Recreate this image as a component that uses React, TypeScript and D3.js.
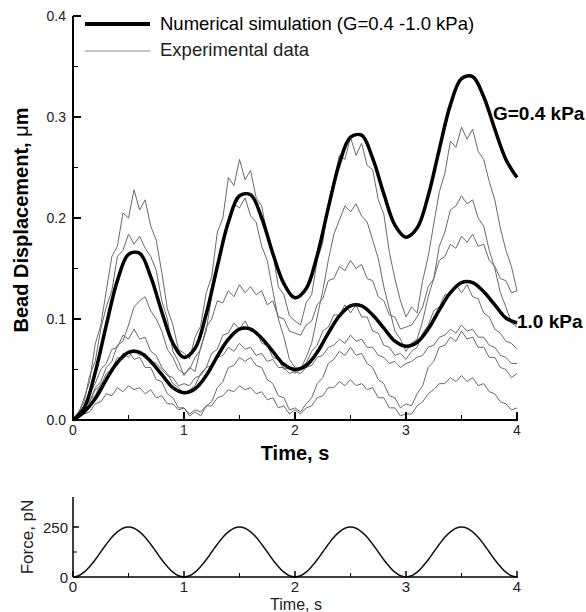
import React from 'react';
import * as d3 from 'd3';

const W = 586;
const H = 612;
const FONT = '"Liberation Sans", Arial, sans-serif';

// numerical simulation, sampled every 0.1 s
const simTime = d3.range(41).map(i => i / 10);
const simSoft = [0.000, 0.012, 0.047, 0.094, 0.138, 0.164, 0.165, 0.142, 0.107, 0.076,
  0.062, 0.071, 0.105, 0.152, 0.196, 0.222, 0.223, 0.200, 0.165, 0.135,
  0.121, 0.130, 0.163, 0.210, 0.254, 0.280, 0.282, 0.259, 0.224, 0.193,
  0.181, 0.190, 0.222, 0.268, 0.312, 0.338, 0.340, 0.320, 0.288, 0.258, 0.240];
const simStiff = [0.000, 0.008, 0.021, 0.040, 0.057, 0.067, 0.067, 0.058, 0.045, 0.032,
  0.027, 0.031, 0.044, 0.063, 0.080, 0.090, 0.090, 0.081, 0.068, 0.055,
  0.050, 0.054, 0.067, 0.086, 0.103, 0.113, 0.113, 0.104, 0.091, 0.078,
  0.073, 0.077, 0.090, 0.109, 0.126, 0.136, 0.136, 0.127, 0.114, 0.101, 0.096];

// experimental traces, sampled every 0.05 s
const expTime = d3.range(81).map(i => i / 20);
const expA = [0.000, 0.006, 0.022, 0.038, 0.075, 0.094, 0.128, 0.162, 0.172, 0.205,
  0.200, 0.228, 0.208, 0.218, 0.192, 0.178, 0.146, 0.110, 0.094, 0.070,
  0.066, 0.061, 0.082, 0.093, 0.126, 0.142, 0.186, 0.200, 0.240, 0.232,
  0.258, 0.238, 0.247, 0.220, 0.212, 0.182, 0.166, 0.132, 0.124, 0.103,
  0.098, 0.094, 0.116, 0.124, 0.158, 0.176, 0.214, 0.238, 0.262, 0.258,
  0.280, 0.262, 0.274, 0.252, 0.248, 0.218, 0.204, 0.166, 0.140, 0.118,
  0.102, 0.112, 0.106, 0.138, 0.162, 0.194, 0.226, 0.244, 0.276, 0.270,
  0.290, 0.278, 0.288, 0.266, 0.258, 0.236, 0.218, 0.190, 0.168, 0.152, 0.128];
const expB = [0.000, 0.008, 0.018, 0.044, 0.058, 0.090, 0.112, 0.128, 0.162, 0.168,
  0.184, 0.174, 0.182, 0.170, 0.162, 0.148, 0.118, 0.100, 0.068, 0.058,
  0.044, 0.052, 0.048, 0.072, 0.088, 0.124, 0.148, 0.180, 0.198, 0.214,
  0.210, 0.220, 0.202, 0.196, 0.172, 0.158, 0.128, 0.100, 0.082, 0.060,
  0.052, 0.050, 0.062, 0.076, 0.102, 0.128, 0.158, 0.184, 0.198, 0.212,
  0.206, 0.214, 0.202, 0.196, 0.178, 0.160, 0.132, 0.110, 0.088, 0.080,
  0.068, 0.076, 0.080, 0.098, 0.122, 0.140, 0.172, 0.186, 0.208, 0.212,
  0.222, 0.214, 0.218, 0.200, 0.192, 0.168, 0.150, 0.126, 0.112, 0.096, 0.092];
const expC = [0.000, 0.004, 0.012, 0.018, 0.032, 0.038, 0.052, 0.058, 0.074, 0.078,
  0.094, 0.112, 0.118, 0.122, 0.108, 0.100, 0.088, 0.070, 0.062, 0.050,
  0.046, 0.050, 0.062, 0.070, 0.092, 0.100, 0.118, 0.116, 0.128, 0.122,
  0.134, 0.126, 0.132, 0.124, 0.128, 0.114, 0.118, 0.102, 0.100, 0.088,
  0.086, 0.084, 0.094, 0.098, 0.114, 0.120, 0.138, 0.140, 0.152, 0.148,
  0.158, 0.150, 0.154, 0.140, 0.138, 0.122, 0.118, 0.104, 0.102, 0.090,
  0.092, 0.094, 0.102, 0.112, 0.132, 0.140, 0.158, 0.162, 0.174, 0.170,
  0.182, 0.176, 0.184, 0.172, 0.174, 0.158, 0.152, 0.140, 0.138, 0.126, 0.128];
const expD = [0.000, 0.006, 0.010, 0.020, 0.024, 0.036, 0.040, 0.052, 0.054, 0.066,
  0.062, 0.070, 0.064, 0.066, 0.058, 0.056, 0.050, 0.044, 0.042, 0.034,
  0.036, 0.034, 0.042, 0.044, 0.052, 0.054, 0.062, 0.064, 0.072, 0.068,
  0.076, 0.070, 0.072, 0.064, 0.066, 0.058, 0.060, 0.052, 0.052, 0.046,
  0.048, 0.046, 0.052, 0.054, 0.062, 0.064, 0.072, 0.074, 0.080, 0.076,
  0.084, 0.078, 0.080, 0.072, 0.072, 0.064, 0.062, 0.056, 0.058, 0.052,
  0.056, 0.058, 0.062, 0.064, 0.072, 0.074, 0.082, 0.084, 0.090, 0.086,
  0.094, 0.088, 0.090, 0.082, 0.082, 0.074, 0.072, 0.064, 0.062, 0.056, 0.056];
const expE = [0.000, 0.004, 0.012, 0.018, 0.030, 0.034, 0.046, 0.050, 0.062, 0.060,
  0.068, 0.060, 0.062, 0.052, 0.052, 0.040, 0.038, 0.026, 0.022, 0.012,
  0.012, 0.004, 0.008, 0.004, 0.014, 0.018, 0.032, 0.038, 0.052, 0.054,
  0.062, 0.058, 0.062, 0.054, 0.052, 0.040, 0.036, 0.024, 0.022, 0.010,
  0.012, 0.008, 0.016, 0.022, 0.036, 0.042, 0.056, 0.060, 0.068, 0.064,
  0.072, 0.064, 0.066, 0.056, 0.052, 0.040, 0.036, 0.024, 0.022, 0.012,
  0.016, 0.014, 0.026, 0.034, 0.052, 0.058, 0.072, 0.074, 0.082, 0.078,
  0.088, 0.080, 0.082, 0.072, 0.072, 0.062, 0.062, 0.052, 0.050, 0.042, 0.046];
const expF = [0.000, 0.002, 0.006, 0.008, 0.016, 0.018, 0.026, 0.024, 0.032, 0.028,
  0.034, 0.030, 0.032, 0.026, 0.030, 0.022, 0.024, 0.016, 0.016, 0.010,
  0.012, 0.006, 0.010, 0.008, 0.014, 0.014, 0.022, 0.024, 0.030, 0.028,
  0.034, 0.030, 0.032, 0.026, 0.028, 0.020, 0.022, 0.012, 0.014, 0.006,
  0.010, 0.006, 0.012, 0.014, 0.022, 0.024, 0.032, 0.032, 0.038, 0.034,
  0.040, 0.034, 0.036, 0.030, 0.032, 0.022, 0.022, 0.012, 0.012, 0.004,
  0.006, 0.006, 0.014, 0.018, 0.026, 0.030, 0.036, 0.036, 0.042, 0.038,
  0.044, 0.038, 0.042, 0.034, 0.036, 0.028, 0.026, 0.018, 0.016, 0.010, 0.012];
const expG = [0.000, 0.006, 0.014, 0.026, 0.036, 0.050, 0.056, 0.070, 0.072, 0.084,
  0.080, 0.090, 0.080, 0.082, 0.068, 0.064, 0.052, 0.046, 0.036, 0.032,
  0.026, 0.030, 0.034, 0.046, 0.052, 0.066, 0.070, 0.084, 0.086, 0.096,
  0.090, 0.098, 0.088, 0.088, 0.076, 0.074, 0.062, 0.060, 0.050, 0.052,
  0.046, 0.052, 0.056, 0.068, 0.074, 0.088, 0.092, 0.104, 0.104, 0.114,
  0.106, 0.114, 0.102, 0.102, 0.088, 0.086, 0.074, 0.072, 0.064, 0.066,
  0.060, 0.068, 0.072, 0.086, 0.094, 0.108, 0.112, 0.124, 0.124, 0.134,
  0.126, 0.134, 0.122, 0.120, 0.106, 0.102, 0.090, 0.086, 0.078, 0.076, 0.070];
const expSeries = [expA, expB, expC, expD, expE, expF, expG];

// applied force, sampled every 0.05 s
const forceValues = [0, 6, 24, 52, 86, 125, 164, 199, 226, 244, 250, 244, 226, 199, 164, 125, 86, 52, 24, 6,
  0, 6, 24, 52, 86, 125, 164, 199, 226, 244, 250, 244, 226, 199, 164, 125, 86, 52, 24, 6,
  0, 6, 24, 52, 86, 125, 164, 199, 226, 244, 250, 244, 226, 199, 164, 125, 86, 52, 24, 6,
  0, 6, 24, 52, 86, 125, 164, 199, 226, 244, 250, 244, 226, 199, 164, 125, 86, 52, 24, 6, 0];

const timeTicks = [0, 1, 2, 3, 4];
const timeMinor = [0.5, 1.5, 2.5, 3.5];
const dispTicks = [0, 0.1, 0.2, 0.3, 0.4];
const dispMinor = [0.05, 0.15, 0.25, 0.35];
const forceTicks = [0, 250];
const forceMinor = [125];

export default function App() {
  const x = d3.scaleLinear().domain([0, 4]).range([73, 517]);
  const y = d3.scaleLinear().domain([0, 0.4]).range([420, 16]);
  const yF = d3.scaleLinear().domain([0, 400]).range([577, 497]);

  const simLine = d3.line<number>()
    .x((d, i) => x(simTime[i]))
    .y(d => y(d))
    .curve(d3.curveCatmullRom);
  const expLine = d3.line<number>()
    .x((d, i) => x(expTime[i]))
    .y(d => y(d));
  const forceLine = d3.line<number>()
    .x((d, i) => x(expTime[i]))
    .y(d => yF(d))
    .curve(d3.curveCatmullRom);

  const fmt = d3.format('.1f');

  return (
    <svg width={W} height={H} style={{ position: 'absolute', left: 0, top: 0, background: '#fff' }}
      fontFamily={FONT}>
      {/* experimental data */}
      <g fill="none" stroke="#6a6a6a" strokeWidth={1}>
        {expSeries.map((s, i) => <path key={i} d={expLine(s) || ''} />)}
      </g>
      {/* simulations */}
      <g fill="none" stroke="#000" strokeWidth={3.5} strokeLinejoin="round">
        <path d={simLine(simSoft) || ''} />
        <path d={simLine(simStiff) || ''} />
      </g>

      {/* main axes */}
      <g stroke="#000" strokeWidth={2}>
        <line x1={x(0)} x2={x(0)} y1={y(0.4)} y2={y(0) + 1} />
        <line x1={x(0) - 1} x2={x(4) + 1} y1={y(0)} y2={y(0)} />
        {dispTicks.map(v => <line key={v} x1={x(0)} x2={x(0) + 8} y1={y(v)} y2={y(v)} />)}
        {dispMinor.map(v => <line key={v} x1={x(0)} x2={x(0) + 5} y1={y(v)} y2={y(v)} strokeWidth={1} />)}
        {timeTicks.map(v => <line key={v} x1={x(v)} x2={x(v)} y1={y(0)} y2={y(0) - 8} />)}
        {timeMinor.map(v => <line key={v} x1={x(v)} x2={x(v)} y1={y(0)} y2={y(0) - 5} strokeWidth={1} />)}
      </g>
      <g fontSize={14} fill="#222">
        {dispTicks.map(v => (
          <text key={v} x={x(0) - 7} y={y(v) + 5} textAnchor="end">{fmt(v)}</text>
        ))}
        {timeTicks.map(v => (
          <text key={v} x={x(v)} y={y(0) + 15} textAnchor="middle">{v}</text>
        ))}
      </g>
      <text x={(x(0) + x(4)) / 2} y={460} textAnchor="middle" fontSize={20} fontWeight="bold">Time, s</text>
      <text transform={`translate(28,${(y(0) + y(0.4)) / 2 + 2}) rotate(-90)`} textAnchor="middle"
        fontSize={20} fontWeight="bold">Bead Displacement, <tspan fontWeight="normal">μ</tspan>m</text>

      {/* legend */}
      <line x1={85} x2={150} y1={24} y2={24} stroke="#000" strokeWidth={4} />
      <text x={160} y={30} fontSize={18.5}>Numerical simulation (G=0.4 -1.0 kPa)</text>
      <line x1={85} x2={150} y1={51} y2={51} stroke="#888" strokeWidth={1} />
      <text x={160} y={56} fontSize={18.5} fill="#222">Experimental data</text>

      {/* curve labels */}
      <text x={493} y={120} fontSize={19} fontWeight="bold">G=0.4 kPa</text>
      <text x={517} y={328} fontSize={19} fontWeight="bold">1.0 kPa</text>

      {/* force panel */}
      <path d={forceLine(forceValues) || ''} fill="none" stroke="#111" strokeWidth={1.5} />
      <g stroke="#000" strokeWidth={1.5}>
        <line x1={x(0)} x2={x(0)} y1={yF(400)} y2={yF(0)} />
        <line x1={x(0)} x2={x(4) + 1} y1={yF(0)} y2={yF(0)} />
        {forceTicks.map(v => <line key={v} x1={x(0)} x2={x(0) + 6} y1={yF(v)} y2={yF(v)} />)}
        {forceMinor.map(v => <line key={v} x1={x(0)} x2={x(0) + 4} y1={yF(v)} y2={yF(v)} strokeWidth={1} />)}
        {timeTicks.map(v => <line key={v} x1={x(v)} x2={x(v)} y1={yF(0)} y2={yF(0) - 6} />)}
        {timeMinor.map(v => <line key={v} x1={x(v)} x2={x(v)} y1={yF(0)} y2={yF(0) - 4} strokeWidth={1} />)}
      </g>
      <g fontSize={15} fill="#222">
        {forceTicks.map(v => (
          <text key={v} x={x(0) - 5} y={yF(v) + 6} textAnchor="end">{v}</text>
        ))}
        {timeTicks.map(v => (
          <text key={v} x={x(v)} y={yF(0) + 15} textAnchor="middle">{v}</text>
        ))}
      </g>
      <text x={296} y={610} textAnchor="middle" fontSize={16} fill="#222">Time, s</text>
      <text transform={`translate(33,${(yF(0) + yF(400)) / 2}) rotate(-90)`} textAnchor="middle"
        fontSize={17} fill="#222">Force, pN</text>
    </svg>
  );
}
